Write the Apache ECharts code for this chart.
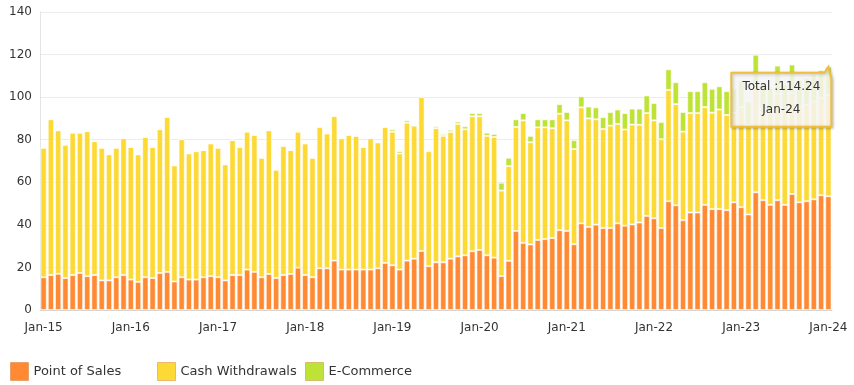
<!DOCTYPE html>
<html><head><meta charset="utf-8">
<script src="https://cdn.jsdelivr.net/npm/echarts@6/dist/echarts.min.js"></script>
<style>html,body{margin:0;padding:0;background:#fff}#c{width:854px;height:385px}</style>
</head><body><div id="c"></div>
<script>
const monthNames = ['Jan','Feb','Mar','Apr','May','Jun','Jul','Aug','Sep','Oct','Nov','Dec'];
const years = ['15','16','17','18','19','20','21','22','23'];
const lastCategory = 'Jan-24';
const categories = [];
years.forEach(y => monthNames.forEach(m => categories.push(m + '-' + y)));
categories.push(lastCategory);

const seriesNames = ['Point of Sales', 'Cash Withdrawals', 'E-Commerce'];

const pointOfSales = [
  15.4,16.4,17.0,15.0,16.4,17.4,15.9,16.4,13.9,13.9,15.4,16.4,
  14.3,13.2,15.4,15.0,17.4,17.9,13.4,15.4,14.3,14.3,15.4,15.9,
  15.4,13.9,16.4,16.4,19.0,17.9,15.4,16.9,15.0,16.4,16.9,19.9,
  16.4,15.4,19.6,19.6,23.2,19.0,19.0,19.0,19.0,19.0,19.6,22.1,
  21.0,19.0,23.2,24.1,27.7,20.6,22.4,22.4,24.1,25.2,25.7,27.6,
  28.2,25.7,24.6,15.9,23.1,37.1,31.5,30.8,32.9,33.3,33.8,37.5,
  37.1,30.9,40.7,39.0,40.1,38.5,38.5,40.7,39.6,40.2,41.1,44.2,
  43.1,38.5,51.1,49.2,42.2,45.8,45.8,49.4,47.4,47.4,46.9,50.6,
  48.3,44.9,55.3,51.6,49.4,51.6,49.4,54.5,50.6,51.1,52.0,53.9,
  53.44
];
const cashWithdrawals = [
  60.8,73.2,67.4,62.6,66.9,65.9,68.1,62.9,62.3,59.2,60.8,64.3,
  62.3,59.9,65.9,61.6,67.5,72.8,54.5,64.8,59.2,60.3,59.7,62.3,
  60.8,54.5,63.4,60.2,64.8,64.3,56.1,67.5,50.9,60.7,58.2,63.9,
  61.8,56.1,66.4,63.3,67.9,61.7,63.2,62.8,57.6,61.7,59.1,63.9,
  62.8,54.5,64.8,62.5,72.3,54.0,63.0,59.4,59.5,62.2,59.2,63.4,
  62.8,56.1,56.7,40.2,44.5,48.9,57.6,48.0,52.9,52.5,51.6,54.7,
  52.0,44.7,54.5,51.0,49.5,46.5,48.1,46.7,45.2,46.9,45.9,48.3,
  46.0,41.7,52.3,47.5,41.6,46.7,46.7,45.9,45.3,46.8,44.7,42.0,
  47.0,42.0,51.0,43.0,43.0,50.0,44.6,47.6,45.0,45.4,46.0,45.7,
  47.6
];
const eCommerce = [
  0,0,0,0,0,0,0,0,0,0,0,0,
  0,0,0,0,0,0,0,0,0,0,0,0,
  0,0,0,0,0,0,0,0,0,0,0,0,
  0,0,0,0,0,0,0,0,0,0,0,0,
  1.1,1.1,1.1,0.5,0.5,0.6,0.9,0.9,1.0,1.1,1.4,1.5,
  1.5,1.5,1.4,3.7,3.9,3.6,3.4,3.0,3.8,3.8,4.2,4.5,
  3.9,4.2,5.2,5.6,5.6,5.6,6.4,6.8,7.7,7.5,7.6,8.3,
  8.1,8.1,9.7,10.3,9.2,10.3,10.3,11.7,11.2,10.9,11.2,11.4,
  12.5,11.0,13.6,11.5,11.8,13.2,12.0,13.2,12.4,12.5,13.0,13.0,
  13.2
];
const yTicks = { min: 0, max: 140, interval: 20 };
const colors = ['#FF8A33', '#FCD935', '#BEE337'];

const FONT = 'DejaVu Sans';
const chart = echarts.init(document.getElementById('c'), null, { renderer: 'canvas' });
const values = [pointOfSales, cashWithdrawals, eCommerce];
const barStyle = { borderColor: 'rgba(255,255,255,0.55)', borderWidth: 1 };

function legendAt(i, left) {
  return {
    data: [seriesNames[i]], left: left, top: 357, itemWidth: 18, itemHeight: 18,
    icon: 'rect', itemStyle: { borderColor: 'rgba(200,90,20,0.35)', borderWidth: 1 },
    textStyle: { fontFamily: FONT, fontSize: 13, color: '#333' }
  };
}

chart.setOption({
  animation: false,
  color: colors,
  grid: { left: 40, right: 22, top: 12, bottom: 75 },
  legend: [legendAt(0, 5), legendAt(1, 152), legendAt(2, 300)],
  xAxis: {
    type: 'category', data: categories,
    axisLine: { lineStyle: { color: '#d6d6d6' } },
    axisTick: { show: false },
    axisLabel: { interval: 11, fontFamily: FONT, fontSize: 12, color: '#333', margin: 12 }
  },
  yAxis: {
    type: 'value', min: yTicks.min, max: yTicks.max, interval: yTicks.interval,
    axisLine: { show: true, lineStyle: { color: '#e4e4e4' } },
    splitLine: { lineStyle: { color: '#ececec' } },
    axisLabel: { fontFamily: FONT, fontSize: 12, color: '#333', margin: 8 }
  },
  series: seriesNames.map((n, i) => ({
    name: n, type: 'bar', stack: 'total', data: values[i],
    barWidth: '86%', itemStyle: barStyle
  }))
});

const last = categories.length - 1;
const total = +(pointOfSales[last] + cashWithdrawals[last] + eCommerce[last]).toFixed(2);
const p = chart.convertToPixel({ gridIndex: 0 }, [categories[last], total]);
const ax = p[0], ay = p[1];
const R = ax + 3, L = R - 100, T = ay + 6, B = T + 54;
chart.setOption({
  graphic: [
    { type: 'polygon', z: 100, zlevel: 1,
      shape: { points: [[L, T], [R - 7, T], [ax, ay], [R, T + 6], [R, B], [L, B]] },
      style: { fill: 'rgba(255,255,255,0.82)', stroke: '#F0BE3C', lineWidth: 2,
               shadowBlur: 3, shadowColor: 'rgba(0,0,0,0.25)', shadowOffsetX: 1, shadowOffsetY: 1 } },
    { type: 'text', z: 101, zlevel: 1, x: (L + R) / 2, y: T + 14,
      style: { text: 'Total :' + total.toFixed(2), font: '12px "DejaVu Sans"', fill: '#333', align: 'center', verticalAlign: 'middle' } },
    { type: 'text', z: 101, zlevel: 1, x: (L + R) / 2, y: T + 37,
      style: { text: categories[last], font: '12px "DejaVu Sans"', fill: '#333', align: 'center', verticalAlign: 'middle' } }
  ]
});
</script></body></html>
